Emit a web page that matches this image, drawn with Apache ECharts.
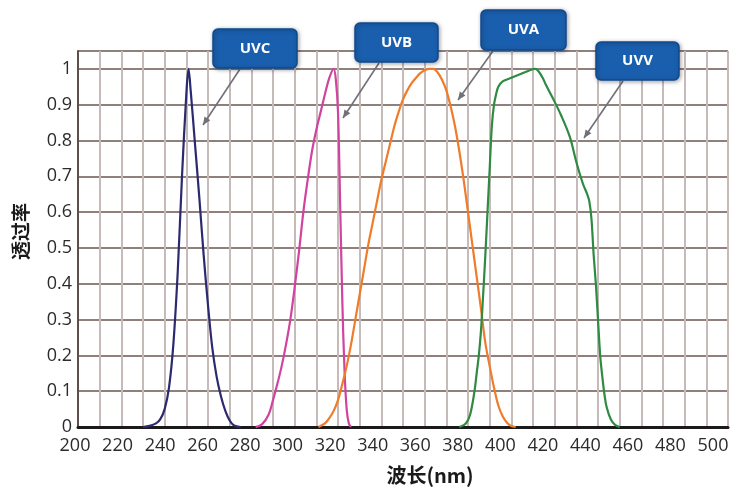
<!DOCTYPE html>
<html>
<head>
<meta charset="utf-8">
<script src="https://cdn.jsdelivr.net/npm/echarts@6/dist/echarts.min.js"></script>
<style>
html,body{margin:0;padding:0;background:#fff;}
#chart{width:732px;height:490px;}
</style>
</head>
<body>
<div id="chart"></div>
<script>
// ---- data ----
var xTickLabels = [200,220,240,260,280,300,320,340,360,380,400,420,440,460,480,500];
var yTickLabels = [0,0.1,0.2,0.3,0.4,0.5,0.6,0.7,0.8,0.9,1];
var seriesNames = ['UVC','UVB','UVA','UVV'];

var uvcWl = [230,233,236,238,240,242,244,246,248,250,251,252,254,256,258,260,262,264,266,268,270,272,275];
var uvcT  = [0,0.003,0.01,0.022,0.05,0.11,0.23,0.43,0.7,0.93,1.0,0.94,0.79,0.64,0.48,0.34,0.22,0.14,0.085,0.045,0.018,0.004,0];

var uvbWl = [282,285,288,290,292,294,296,298,300,302,304,306,308,310,312,314,316,318,319,320,321,322,323,324,325,326];
var uvbT  = [0,0.008,0.035,0.075,0.12,0.17,0.23,0.3,0.39,0.49,0.6,0.69,0.77,0.83,0.88,0.93,0.975,1.0,0.97,0.88,0.62,0.35,0.16,0.05,0.01,0];

var uvaWl = [311,314,316,318,320,322,324,326,328,330,332,334,336,338,340,342,344,346,348,350,352,354,356,358,360,362,364,366,368,370,372,374,376,378,380,382,384,386,388,390,392,394,396,398,400,402];
var uvaT  = [0,0.01,0.025,0.045,0.075,0.12,0.17,0.23,0.3,0.37,0.44,0.51,0.57,0.63,0.69,0.74,0.79,0.84,0.88,0.915,0.94,0.96,0.975,0.988,0.996,1.0,1.0,0.99,0.97,0.94,0.895,0.84,0.77,0.69,0.6,0.51,0.42,0.33,0.235,0.17,0.11,0.06,0.03,0.012,0.003,0];

var uvvWl = [376,379,381,383,384,385,386,387,388,389,390,391,392,393,394,396,400,404,408,411,414,416,419,423,427,430,433,435,436,437,438,439,440,441,442,443,444,446,448,450];
var uvvT  = [0,0.01,0.035,0.1,0.15,0.2,0.27,0.37,0.48,0.6,0.72,0.84,0.9,0.93,0.95,0.965,0.975,0.985,0.995,1.0,0.98,0.955,0.92,0.87,0.81,0.74,0.68,0.65,0.63,0.58,0.48,0.4,0.3,0.2,0.14,0.09,0.055,0.02,0.005,0];

var seriesColors = ['#2c2a6e','#d0449f','#f07b2a','#2f8a43'];

// ---- build ----
function zip(a,b){ return a.map(function(v,i){ return [v,b[i]]; }); }
var seriesData = [zip(uvcWl,uvcT), zip(uvbWl,uvbT), zip(uvaWl,uvaT), zip(uvvWl,uvvT)];

// callout layout (pixels): box x,y,w,h and arrow start/end
var callouts = [
  {box:[213,29,84,39], from:[240,69], to:[203,125]},
  {box:[355,23,83,39], from:[379,63], to:[343,118]},
  {box:[481,10,85,40], from:[493,51], to:[458,100]},
  {box:[596,42,83,38], from:[623,81], to:[584,138]}
];

var graphics = [];
callouts.forEach(function(c, i){
  var b = c.box;
  graphics.push({
    type:'line', z:50, silent:true,
    shape:{x1:c.from[0], y1:c.from[1], x2:c.to[0], y2:c.to[1]},
    style:{stroke:'#70707a', lineWidth:1.6}
  });
  var dx = c.to[0]-c.from[0], dy = c.to[1]-c.from[1];
  var len = Math.sqrt(dx*dx+dy*dy), ux = dx/len, uy = dy/len;
  var L = 8, W = 3.5;
  var bx = c.to[0]-ux*L, by = c.to[1]-uy*L;
  graphics.push({
    type:'polygon', z:51, silent:true,
    shape:{points:[[c.to[0],c.to[1]],[bx-uy*W,by+ux*W],[bx+uy*W,by-ux*W]]},
    style:{fill:'#70707a'}
  });
  graphics.push({
    type:'rect', z:52, silent:true,
    shape:{x:b[0], y:b[1], width:b[2], height:b[3], r:5},
    style:{fill:'#1a5fae', stroke:'#104a8e', lineWidth:1.5, shadowBlur:4, shadowColor:'rgba(0,0,0,0.35)', shadowOffsetX:1, shadowOffsetY:1}
  });
  graphics.push({
    type:'text', z:53, silent:true,
    x:b[0]+b[2]/2, y:b[1]+b[3]/2,
    style:{text:seriesNames[i], fill:'#ffffff', font:'bold 15px "Open Sans", sans-serif', align:'center', verticalAlign:'middle'}
  });
});

var chart = echarts.init(document.getElementById('chart'), null, {renderer:'canvas'});
var option = {
  animation:false,
  backgroundColor:'#ffffff',
  grid:[
    {left:78, right:4, top:51, bottom:60, containLabel:false},
    {left:75, width:638, top:51, bottom:60, containLabel:false}
  ],
  xAxis:[
    {
      type:'value', gridIndex:0, min:200, max:500, interval:10,
      name:'波长(nm)', nameLocation:'middle', nameGap:38,
      nameTextStyle:{fontFamily:'"Noto Sans CJK SC", sans-serif', fontWeight:'bold', fontSize:20, color:'#1a1a1a', padding:[0,0,0,54]},
      axisLine:{show:true, lineStyle:{color:'#1a1a1a', width:3}},
      axisTick:{show:false},
      axisLabel:{show:false},
      splitLine:{show:true, lineStyle:{color:'#c6bbb8', width:2}}
    },
    {
      type:'value', gridIndex:1, min:200, max:500, interval:20,
      axisLine:{show:false}, axisTick:{show:false}, splitLine:{show:false},
      axisLabel:{show:true, margin:7, color:'#2b2b2b', fontSize:18, fontFamily:'"Open Sans", sans-serif',
        formatter:function(v){ return xTickLabels.indexOf(v) >= 0 ? String(v) : ''; }}
    }
  ],
  yAxis:[
    {
      type:'value', gridIndex:0, min:0, max:1.05, interval:0.1,
      name:'透过率', nameLocation:'middle', nameRotate:90, nameGap:48,
      nameTextStyle:{fontFamily:'"Noto Sans CJK SC", sans-serif', fontWeight:'bold', fontSize:19, color:'#1a1a1a', padding:[0,0,0,15]},
      axisLine:{show:true, lineStyle:{color:'#5e4f4c', width:2}},
      axisTick:{show:false},
      axisLabel:{margin:6, color:'#2b2b2b', fontSize:18, fontFamily:'"Open Sans", sans-serif',
        formatter:function(v){
          var r = Math.round(v*10)/10;
          return (yTickLabels.indexOf(r) >= 0 && Math.abs(v - r) < 1e-6) ? String(r) : '';
        }},
      splitLine:{show:true, lineStyle:{color:'#8f807c', width:2}}
    },
    {type:'value', gridIndex:1, min:0, max:1.05, show:false}
  ],
  series: seriesData.map(function(d, i){
    return {
      name:seriesNames[i], type:'line', xAxisIndex:0, yAxisIndex:0,
      data:d, showSymbol:false, symbol:'none', smooth:0.35,
      lineStyle:{color:seriesColors[i], width:2.2}, z:3
    };
  }),
  graphic: graphics
};
chart.setOption(option);
</script>
</body>
</html>
